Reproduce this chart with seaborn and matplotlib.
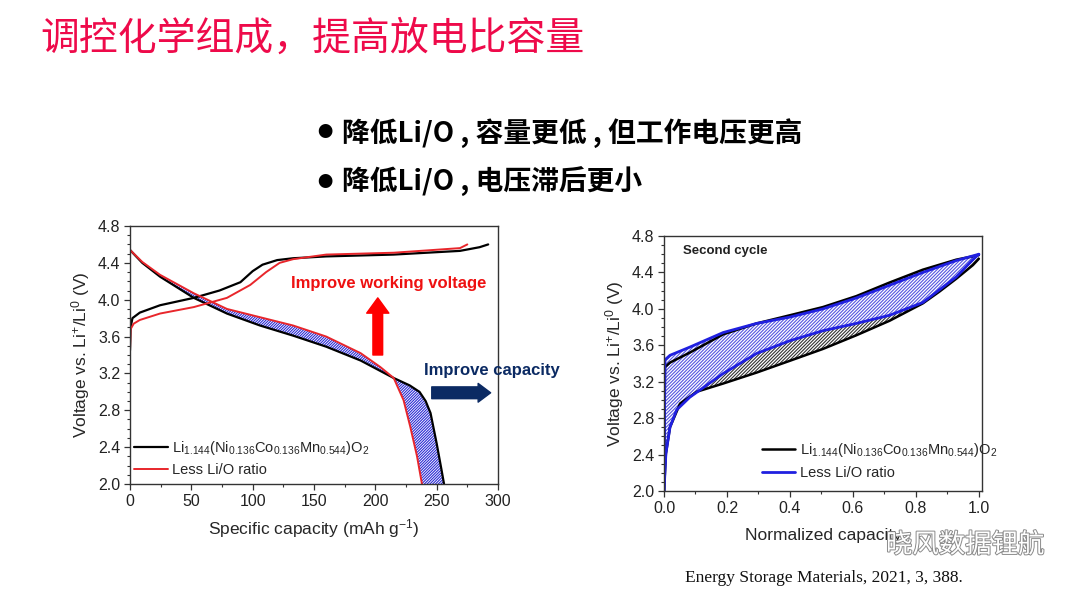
import numpy as np
import matplotlib
matplotlib.use('Agg')
import matplotlib.pyplot as plt
import matplotlib.patheffects as pe
from matplotlib.lines import Line2D
from matplotlib.ticker import MultipleLocator
import seaborn as sns

# ---- data ----
# left panel: first cycle, specific capacity (mAh/g) vs voltage (V)
chg_black_x = [0, 0.5, 2, 8, 24.5, 52, 73, 90, 100, 108, 120, 133, 160, 215, 269, 285, 292]
chg_black_v = [3.45, 3.70, 3.80, 3.86, 3.94, 4.02, 4.10, 4.19, 4.31, 4.38, 4.43, 4.45, 4.47, 4.49, 4.53, 4.57, 4.60]
chg_red_x = [0, 0.5, 3, 8, 24.5, 52, 79, 98, 111, 122, 133, 160, 215, 269, 275]
chg_red_v = [3.45, 3.68, 3.74, 3.78, 3.85, 3.92, 4.02, 4.16, 4.30, 4.40, 4.44, 4.49, 4.51, 4.56, 4.60]
dis_black_x = [0, 10, 24.5, 52, 79, 106, 133, 160, 188, 215, 228, 236, 241, 245, 250, 254, 256]
dis_black_v = [4.54, 4.40, 4.25, 4.02, 3.85, 3.72, 3.61, 3.49, 3.34, 3.15, 3.07, 3.00, 2.90, 2.77, 2.44, 2.15, 2.00]
dis_red_x = [0, 10, 24.5, 52, 79, 106, 133, 160, 188, 204, 215, 223, 228.5, 234, 238]
dis_red_v = [4.54, 4.41, 4.27, 4.07, 3.90, 3.81, 3.72, 3.60, 3.42, 3.27, 3.15, 2.91, 2.62, 2.30, 2.00]

# right panel: second cycle, normalized capacity vs voltage (V)
up_black_x = [0, 0.003, 0.019, 0.082, 0.188, 0.294, 0.40, 0.505, 0.611, 0.717, 0.822, 0.928, 1.0]
up_black_v = [2.00, 3.36, 3.41, 3.52, 3.72, 3.84, 3.93, 4.02, 4.14, 4.29, 4.43, 4.54, 4.59]
up_blue_x = [0, 0.003, 0.019, 0.082, 0.188, 0.294, 0.40, 0.505, 0.611, 0.717, 0.822, 0.928, 1.0]
up_blue_v = [2.00, 3.44, 3.49, 3.58, 3.74, 3.84, 3.91, 4.00, 4.12, 4.26, 4.40, 4.53, 4.60]
lo_black_x = [0, 0.006, 0.019, 0.051, 0.104, 0.188, 0.294, 0.40, 0.505, 0.611, 0.717, 0.822, 0.875, 0.928, 0.981, 1.0]
lo_black_v = [2.00, 2.41, 2.70, 2.96, 3.09, 3.18, 3.30, 3.43, 3.56, 3.71, 3.87, 4.06, 4.19, 4.33, 4.48, 4.55]
lo_blue_x = [0, 0.006, 0.019, 0.04, 0.082, 0.188, 0.294, 0.40, 0.505, 0.611, 0.717, 0.822, 0.875, 0.928, 0.981, 1.0]
lo_blue_v = [2.00, 2.41, 2.70, 2.89, 3.03, 3.29, 3.51, 3.65, 3.76, 3.84, 3.93, 4.07, 4.21, 4.35, 4.54, 4.60]

left_xticks = [0, 50, 100, 150, 200, 250, 300]
right_xticks = [0.0, 0.2, 0.4, 0.6, 0.8, 1.0]
vticks = [2.0, 2.4, 2.8, 3.2, 3.6, 4.0, 4.4, 4.8]

formula = r'Li$_{1.144}$(Ni$_{0.136}$Co$_{0.136}$Mn$_{0.544}$)O$_2$'
ylab = r'Voltage vs. Li$^{+}$/Li$^{0}$ (V)'

sns.set_theme(style='ticks')
plt.rcParams['font.family'] = ['Liberation Sans', 'Noto Sans CJK SC', 'DejaVu Sans']
plt.rcParams['mathtext.default'] = 'regular'
plt.rcParams['hatch.linewidth'] = 0.8

W, H = 1080, 590
fig = plt.figure(figsize=(10.8, 5.9), dpi=100)
fig.patch.set_facecolor('white')


def px_axes(x0, x1, y0, y1):
    return fig.add_axes([x0 / W, 1 - y1 / H, (x1 - x0) / W, (y1 - y0) / H])


def style_axes(ax):
    for s in ax.spines.values():
        s.set_visible(True)
        s.set_color('#333333')
        s.set_linewidth(1.0)
    ax.tick_params(which='both', direction='out', top=False, right=False,
                   colors='#333333', labelcolor='#222222', labelsize=11.5)
    ax.tick_params(which='major', length=4, width=0.9, pad=3)
    ax.tick_params(which='minor', length=2.5, width=0.8)
    ax.set_facecolor('white')


# ---- left panel ----
axl = px_axes(130, 498, 226, 484)
blue = '#2b2bd4'
red = '#e8262b'
axl.fill(np.r_[dis_black_x, dis_red_x[::-1]], np.r_[dis_black_v, dis_red_v[::-1]],
         facecolor='white', edgecolor=blue, hatch='/' * 12, lw=0, zorder=1)
sns.lineplot(x=chg_black_x, y=chg_black_v, sort=False, estimator=None, color='black', lw=1.6, ax=axl)
sns.lineplot(x=dis_black_x, y=dis_black_v, sort=False, estimator=None, color='black', lw=1.6, ax=axl)
sns.lineplot(x=chg_red_x, y=chg_red_v, sort=False, estimator=None, color=red, lw=1.4, ax=axl)
sns.lineplot(x=dis_red_x, y=dis_red_v, sort=False, estimator=None, color=red, lw=1.4, ax=axl)
axl.set_xlim(0, 300)
axl.set_ylim(2.0, 4.8)
axl.set_xticks(left_xticks)
axl.set_yticks(vticks)
axl.xaxis.set_minor_locator(MultipleLocator(25))
axl.yaxis.set_minor_locator(MultipleLocator(0.1))
style_axes(axl)
axl.set_xlabel(r'Specific capacity (mAh g$^{-1}$)', fontsize=12.5, labelpad=6)
axl.set_ylabel(ylab, fontsize=12.5, labelpad=4)
hl = [Line2D([], [], color='black', lw=1.6), Line2D([], [], color=red, lw=1.4)]
axl.legend(hl, [formula, 'Less Li/O ratio'], loc='upper left', bbox_to_anchor=(0.012, 0.175),
           frameon=False, fontsize=10.5, handlelength=2.3, handletextpad=0.3,
           borderpad=0, borderaxespad=0, labelspacing=0.42)

axl.text(211, 4.18, 'Improve working voltage', color='#ee1111', fontsize=12,
         fontweight='bold', ha='center', va='center')
axl.annotate('', xy=(202, 4.02), xytext=(202, 3.40),
             arrowprops=dict(arrowstyle='simple,head_length=1.1,head_width=1.6,tail_width=0.7',
                             fc='#ff0000', ec='#ff0000', mutation_scale=10, shrinkA=0, shrinkB=0))
axl.text(240, 3.23, 'Improve capacity', color='#0b2a63', fontsize=12,
         fontweight='bold', ha='left', va='center', clip_on=False)
axl.annotate('', xy=(294, 2.99), xytext=(246, 2.99), annotation_clip=False,
             arrowprops=dict(arrowstyle='simple,head_length=0.9,head_width=1.35,tail_width=0.85',
                             fc='#0b2a63', ec='#0b2a63', mutation_scale=10, shrinkA=0, shrinkB=0))

# ---- right panel ----
axr = px_axes(664, 982, 236, 491)
blue2 = '#2020e0'
axr.fill(np.r_[up_black_x, lo_black_x[::-1]], np.r_[up_black_v, lo_black_v[::-1]],
         facecolor='white', edgecolor='#333333', hatch='/' * 10, lw=0, zorder=1)
axr.fill(np.r_[up_blue_x, lo_blue_x[::-1]], np.r_[up_blue_v, lo_blue_v[::-1]],
         facecolor='white', edgecolor='#5555e0', hatch='/' * 10, lw=0, zorder=1.1)
sns.lineplot(x=up_black_x, y=up_black_v, sort=False, estimator=None, color='black', lw=1.8, ax=axr)
sns.lineplot(x=lo_black_x, y=lo_black_v, sort=False, estimator=None, color='black', lw=1.8, ax=axr)
sns.lineplot(x=up_blue_x, y=up_blue_v, sort=False, estimator=None, color=blue2, lw=2.0, ax=axr)
sns.lineplot(x=lo_blue_x, y=lo_blue_v, sort=False, estimator=None, color=blue2, lw=2.0, ax=axr)
axr.set_xlim(0, 1.01)
axr.set_ylim(2.0, 4.8)
axr.set_xticks(right_xticks)
axr.set_yticks(vticks)
axr.xaxis.set_minor_locator(MultipleLocator(0.1))
axr.yaxis.set_minor_locator(MultipleLocator(0.1))
style_axes(axr)
axr.set_xlabel('Normalized capacity', fontsize=12.5, labelpad=9)
axr.set_ylabel(ylab, fontsize=12.5, labelpad=4)
axr.text(0.06, 4.64, 'Second cycle', fontsize=9.5, fontweight='bold', color='#222222',
         ha='left', va='center')
hr = [Line2D([], [], color='black', lw=1.8), Line2D([], [], color=blue2, lw=2.0)]
axr.legend(hr, [formula, 'Less Li/O ratio'], loc='upper left', bbox_to_anchor=(0.308, 0.195),
           frameon=False, fontsize=10.5, handlelength=2.3, handletextpad=0.3,
           borderpad=0, borderaxespad=0, labelspacing=0.45)

# ---- slide texts ----
cjk = ['Noto Sans CJK SC', 'DejaVu Sans']
fig.text(40 / W, 1 - 39 / H, '调控化学组成，提高放电比容量', color='#ee0a4a', fontsize=28,
         family=cjk, ha='left', va='center')
for yb, line in [(133, '降低Li/O , 容量更低 , 但工作电压更高'), (182, '降低Li/O , 电压滞后更小')]:
    fig.text(317 / W, 1 - yb / H, '●', color='black', fontsize=11, family=cjk,
             ha='left', va='center')
    fig.text(342 / W, 1 - yb / H, line, color='black', fontsize=20,
             fontweight='bold', family=cjk, ha='left', va='center')
fig.text(685 / W, 1 - 578 / H, 'Energy Storage Materials, 2021, 3, 388.', color='#111111',
         fontsize=12.5, family=['Liberation Serif'], ha='left', va='center')
fig.text(886 / W, 1 - 545 / H, '晓风数据锂航', color='white', fontsize=19, family=cjk,
         ha='left', va='center',
         path_effects=[pe.Stroke(linewidth=1.4, foreground='#8a8a8a'), pe.Normal()])

fig.savefig('out.png', dpi=100, facecolor='white')
